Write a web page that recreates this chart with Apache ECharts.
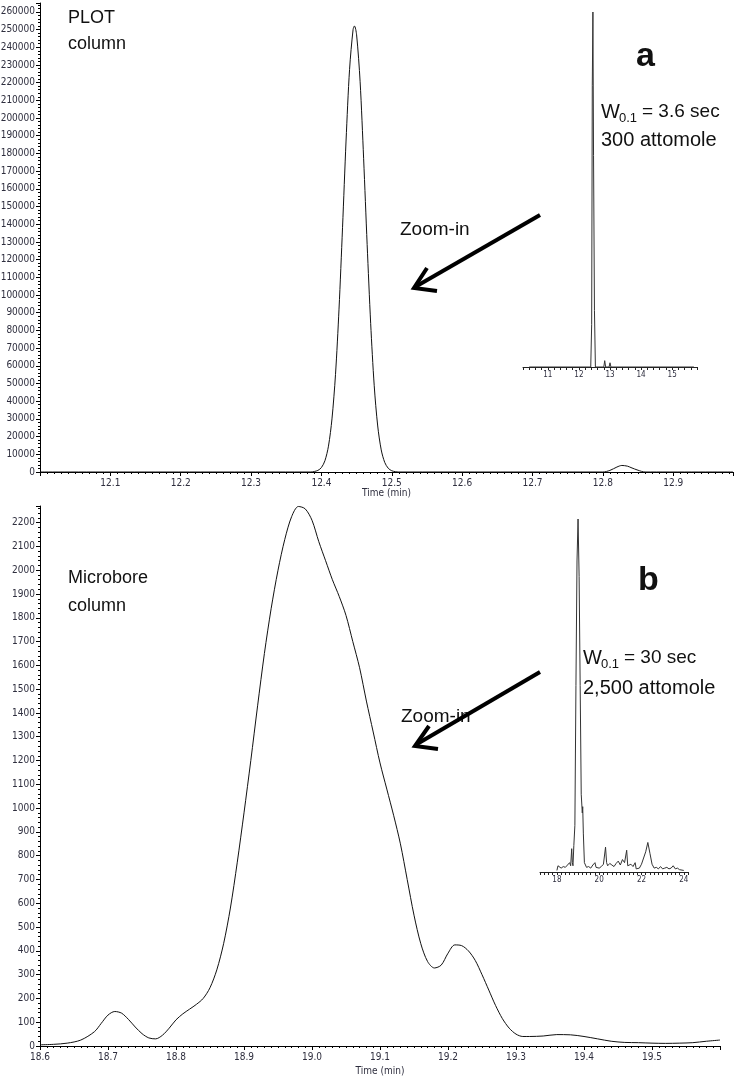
<!DOCTYPE html>
<html>
<head>
<meta charset="utf-8">
<script src="https://cdn.jsdelivr.net/npm/echarts@6/dist/echarts.min.js"></script>
<style>
html,body{margin:0;padding:0;background:#fff;}
#c{width:736px;height:1079px;}
</style>
</head>
<body>
<div id="c"></div>
<script>
// ---- Panel a (PLOT column) main trace ----
var aTime = [12.000, 12.385, 12.390, 12.395, 12.400, 12.405, 12.410, 12.415, 12.420, 12.425, 12.430, 12.435, 12.440, 12.445, 12.447, 12.450, 12.455, 12.460, 12.465, 12.470, 12.475, 12.480, 12.485, 12.490, 12.495, 12.500, 12.505, 12.510, 12.800, 12.810, 12.820, 12.827, 12.835, 12.840, 12.850, 12.860, 12.985];
var aSignal = [0, 0, 300, 900, 2500, 6400, 14600, 30000, 55000, 92000, 138000, 187000, 227500, 250000, 252000, 247000, 220500, 177000, 128500, 84000, 49000, 26000, 12500, 5400, 2100, 700, 200, 0, 0, 900, 2800, 3700, 3300, 2500, 1000, 0, 0];

// ---- Panel a inset (full run) ----
var aInsetTime = [10.40, 12.38, 12.41, 12.43, 12.45, 12.47, 12.50, 12.53, 12.80, 12.83, 12.86, 12.97, 13.00, 13.03, 15.70];
var aInsetSignal = [0, 0, 30000, 200000, 252000, 150000, 40000, 0, 0, 4500, 0, 0, 3000, 0, 0];

// ---- Panel b (Microbore column) main trace ----
var bTime = [18.60,18.62,18.64,18.66,18.68,18.69,18.70,18.71,18.72,18.73,18.74,18.75,18.76,18.77,18.78,18.79,18.80,18.81,18.82,18.83,18.84,18.85,18.86,18.87,18.88,18.89,18.90,18.91,18.92,18.93,18.94,18.95,18.96,18.97,18.98,18.99,19.00,19.01,19.02,19.03,19.04,19.05,19.06,19.07,19.08,19.09,19.10,19.11,19.12,19.13,19.14,19.15,19.16,19.17,19.18,19.19,19.20,19.21,19.22,19.23,19.24,19.25,19.26,19.27,19.28,19.29,19.30,19.31,19.32,19.34,19.36,19.38,19.40,19.42,19.44,19.46,19.48,19.50,19.52,19.54,19.56,19.58,19.60];
var bSignal = [5,7,12,25,60,95,130,145,138,112,80,52,34,30,45,75,110,135,155,175,200,245,320,430,580,770,980,1200,1430,1650,1840,2000,2130,2225,2268,2258,2210,2120,2040,1960,1890,1810,1700,1590,1450,1320,1190,1080,970,850,700,550,430,355,328,340,390,425,422,400,360,300,235,170,115,75,50,40,40,42,48,47,40,30,20,15,14,12,11,12,14,20,25];

// ---- Panel b inset (full run) ----
var bInsetTime = [18.0,18.05,18.1,18.2,18.3,18.4,18.5,18.6,18.65,18.7,18.73,18.76,18.8,18.85,18.9,18.95,19.0,19.05,19.1,19.15,19.2,19.22,19.25,19.3,19.4,19.5,19.6,19.7,19.8,19.85,19.9,20.0,20.1,20.2,20.3,20.35,20.4,20.5,20.6,20.7,20.8,20.9,21.0,21.1,21.2,21.3,21.35,21.5,21.6,21.7,21.75,21.8,21.9,22.0,22.1,22.2,22.3,22.35,22.4,22.5,22.6,22.7,22.8,22.9,23.0,23.1,23.2,23.3,23.4,23.5,23.6,23.7,23.8,24.0];
var bInsetSignal = [10,40,30,25,35,30,45,60,40,150,60,40,170,300,1200,2000,2270,1900,1200,500,380,420,250,60,30,35,25,45,60,30,40,25,35,50,160,60,40,55,45,35,55,70,45,80,60,140,40,50,35,60,20,30,25,50,90,130,190,185,120,50,25,30,20,35,20,25,30,20,25,40,20,25,15,10];

// ---- tick settings ----
var aYInterval = 10000, aXInterval = 0.1;
var bYInterval = 100, bXInterval = 0.1;

function pairs(t, v){ return t.map(function(x,i){ return [x, v[i]]; }); }

var NARROW = '"Liberation Sans Narrow", "Arial Narrow", "DejaVu Sans Condensed", sans-serif';
var SANS = '"Liberation Sans", Arial, sans-serif';
var labCol = '#2e2e3e';

function mainX(gi, min, max, nameGap){
  return {
    type:'value', gridIndex:gi, min:min, max:max, interval:0.1,
    name:'Time (min)', nameLocation:'middle', nameGap:nameGap,
    nameTextStyle:{fontFamily:NARROW, fontSize:10, color:labCol},
    axisLine:{show:true, onZero:false, lineStyle:{color:'#000', width:1}},
    axisTick:{show:true, length:4, lineStyle:{color:'#000'}},
    minorTick:{show:true, splitNumber:10, length:2, lineStyle:{color:'#000'}},
    splitLine:{show:false},
    axisLabel:{fontFamily:NARROW, fontSize:10, color:labCol, margin:6,
      showMaxLabel:false,
      formatter:function(v){ return v.toFixed(1); }}
  };
}
function mainY(gi, max, interval){
  return {
    type:'value', gridIndex:gi, min:0, max:max, interval:interval,
    axisLine:{show:true, lineStyle:{color:'#000', width:1}},
    axisTick:{show:true, length:4, lineStyle:{color:'#000'}},
    minorTick:{show:true, splitNumber:5, length:2, lineStyle:{color:'#000'}},
    splitLine:{show:false},
    axisLabel:{fontFamily:NARROW, fontSize:10, color:labCol, margin:5,
      showMaxLabel:false,
      formatter:function(v){ return String(Math.round(v)); }}
  };
}
function insetX(gi, min, max, every){
  return {
    type:'value', gridIndex:gi, min:min, max:max, interval:0.2,
    axisLine:{show:true, onZero:false, lineStyle:{color:'#222', width:1}},
    axisTick:{show:true, interval:0, length:3, lineStyle:{color:'#222'}},
    splitLine:{show:false},
    axisLabel:{interval:0, fontFamily:NARROW, fontSize:8, color:labCol, margin:4,
      showMinLabel:true, showMaxLabel:true,
      formatter:function(v){
        var r = Math.round(v);
        if (Math.abs(v-r) < 1e-6 && r % every === 0) return String(r);
        return '';
      }}
  };
}
function insetY(gi, max){
  return {type:'value', gridIndex:gi, min:0, max:max, show:false};
}

var ax0 = mainX(0, 12.0, 12.985, 16); ax0.axisLabel.showMinLabel = false;
var ax2 = mainX(2, 18.6, 19.6, 17);

var option = {
  backgroundColor:'#fff',
  animation:false,
  grid:[
    {left:40, top:3, width:693, height:469, outerBoundsMode:'none'},
    {left:523, top:12, width:174, height:355, outerBoundsMode:'none'},
    {left:40, top:506, width:680, height:540, outerBoundsMode:'none'},
    {left:540, top:519, width:148, height:353, outerBoundsMode:'none'}
  ],
  xAxis:[ ax0, insetX(1, 10.2, 15.8, 1), ax2, insetX(3, 17.2, 24.2, 2) ],
  yAxis:[ mainY(0, 265000, aYInterval), insetY(1, 252000), mainY(2, 2270, bYInterval), insetY(3, 2270) ],
  series:[
    {type:'line', xAxisIndex:0, yAxisIndex:0, data:pairs(aTime,aSignal), showSymbol:false, smooth:0.3,
      lineStyle:{color:'#111', width:1}},
    {type:'line', xAxisIndex:1, yAxisIndex:1, data:pairs(aInsetTime,aInsetSignal), showSymbol:false,
      lineStyle:{color:'#333', width:1}},
    {type:'line', xAxisIndex:2, yAxisIndex:2, data:pairs(bTime,bSignal), showSymbol:false, smooth:0.3,
      lineStyle:{color:'#111', width:1}},
    {type:'line', xAxisIndex:3, yAxisIndex:3, data:pairs(bInsetTime,bInsetSignal), showSymbol:false,
      lineStyle:{color:'#333', width:1}}
  ],
  graphic:[
    {type:'text', left:68, top:9, style:{text:'PLOT', fontFamily:SANS, fontSize:18, fill:'#111'}},
    {type:'text', left:68, top:35, style:{text:'column', fontFamily:SANS, fontSize:18, fill:'#111'}},
    {type:'text', left:636, top:40, style:{text:'a', fontFamily:SANS, fontSize:34, fontWeight:'bold', fill:'#111'}},
    {type:'text', left:601, top:102, style:{text:'W', fontFamily:SANS, fontSize:20, fill:'#111'}},
    {type:'text', left:619, top:112, style:{text:'0.1', fontFamily:SANS, fontSize:13, fill:'#111'}},
    {type:'text', left:642, top:102, style:{text:'= 3.6 sec', fontFamily:SANS, fontSize:19, fill:'#111'}},
    {type:'text', left:601, top:130, style:{text:'300 attomole', fontFamily:SANS, fontSize:20, fill:'#111'}},
    {type:'text', left:400, top:220, style:{text:'Zoom-in', fontFamily:SANS, fontSize:19, fill:'#111'}},
    {type:'polyline', shape:{points:[[540,215],[415,287]]}, style:{stroke:'#000', lineWidth:4, fill:null}},
    {type:'polyline', shape:{points:[[427,268],[414,288],[437,291]]}, style:{stroke:'#000', lineWidth:4, fill:null, lineJoin:'miter'}},

    {type:'text', left:68, top:569, style:{text:'Microbore', fontFamily:SANS, fontSize:18, fill:'#111'}},
    {type:'text', left:68, top:597, style:{text:'column', fontFamily:SANS, fontSize:18, fill:'#111'}},
    {type:'text', left:638, top:564, style:{text:'b', fontFamily:SANS, fontSize:34, fontWeight:'bold', fill:'#111'}},
    {type:'text', left:583, top:648, style:{text:'W', fontFamily:SANS, fontSize:20, fill:'#111'}},
    {type:'text', left:601, top:658, style:{text:'0.1', fontFamily:SANS, fontSize:13, fill:'#111'}},
    {type:'text', left:624, top:648, style:{text:'= 30 sec', fontFamily:SANS, fontSize:19, fill:'#111'}},
    {type:'text', left:583, top:678, style:{text:'2,500 attomole', fontFamily:SANS, fontSize:20, fill:'#111'}},
    {type:'text', left:401, top:707, style:{text:'Zoom-in', fontFamily:SANS, fontSize:19, fill:'#111'}},
    {type:'polyline', shape:{points:[[540,672],[417,744]]}, style:{stroke:'#000', lineWidth:4, fill:null}},
    {type:'polyline', shape:{points:[[429,726],[415,746],[438,749]]}, style:{stroke:'#000', lineWidth:4, fill:null, lineJoin:'miter'}}
  ]
};
var chart = echarts.init(document.getElementById('c'), null, {renderer:'canvas'});
chart.setOption(option);
</script>
</body>
</html>
